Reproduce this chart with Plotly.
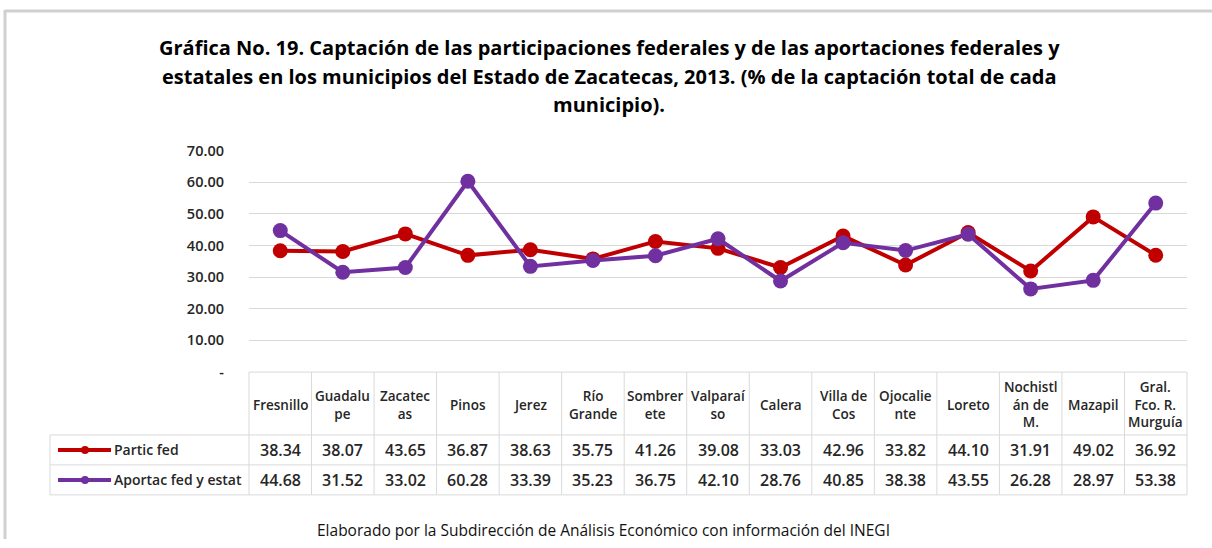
import plotly.graph_objects as go

# datos de la grafica
municipios = ["Fresnillo", "Guadalu<br>pe", "Zacatec<br>as", "Pinos", "Jerez",
              "Río<br>Grande", "Sombrer<br>ete", "Valparaí<br>so", "Calera",
              "Villa de<br>Cos", "Ojocalie<br>nte", "Loreto", "Nochistl<br>án de<br>M.",
              "Mazapil", "Gral.<br>Fco. R.<br>Murguía"]
partic_fed = [38.34, 38.07, 43.65, 36.87, 38.63, 35.75, 41.26, 39.08,
              33.03, 42.96, 33.82, 44.10, 31.91, 49.02, 36.92]
aportac_fed_estat = [44.68, 31.52, 33.02, 60.28, 33.39, 35.23, 36.75, 42.10,
                     28.76, 40.85, 38.38, 43.55, 26.28, 28.97, 53.38]
nombres = ["Partic fed", "Aportac fed y estat"]
y_ticks = [0, 10, 20, 30, 40, 50, 60, 70]
y_ticklabels = ["-", "10.00", "20.00", "30.00", "40.00", "50.00", "60.00", "70.00"]
titulo = ["Gráfica No. 19. Captación de las participaciones federales y de las aportaciones federales y",
          "estatales en los municipios del Estado de Zacatecas, 2013. (% de la captación total de cada",
          "municipio)."]
fuente = "Elaborado por la Subdirección de Análisis Económico con información del INEGI"

colores = ["#C00000", "#7030A0"]
series = [partic_fed, aportac_fed_estat]

W, H = 1212, 548
FONT = "Open Sans"
TXT = "#262626"
GRID = "#D9D9D9"


def px(x):
    return x / W


def py(y):
    # la pagina sale un poco comprimida en vertical, se corrige aqui
    return min(1, 1 - ((y - 9.3) / 0.967) / H)


# area de trazado en pixeles
X0, X1 = 249, 1187
Y_TOP, Y_ZERO = 150, 372
cw = (X1 - X0) / len(municipios)

fig = go.Figure()
for nombre, vals, col in zip(nombres, series, colores):
    fig.add_trace(go.Scatter(x=list(range(len(municipios))), y=vals, name=nombre,
                             mode="lines+markers",
                             line=dict(color=col, width=4),
                             marker=dict(color=col, size=15)))

shapes = []
annots = []


def texto(x, y, t, size, weight="normal", color=TXT, xanchor="center"):
    annots.append(dict(x=x, y=y, xref="paper", yref="paper", text=t, showarrow=False,
                       xanchor=xanchor, yanchor="middle", align="center",
                       font=dict(family=FONT, size=size, color=color, weight=weight)))


# marco gris de la imagen
shapes.append(dict(type="line", xref="paper", yref="paper", x0=px(5), x1=px(5),
                   y0=py(8), y1=0, line=dict(color="#D0D0D0", width=3)))
shapes.append(dict(type="line", xref="paper", yref="paper", x0=px(5), x1=px(1212),
                   y0=py(8) - 0.002, y1=py(8) - 0.002, line=dict(color="#D0D0D0", width=3)))

# tabla de datos
T_TOP, R1, R2, T_BOT = Y_ZERO, 435, 465, 495
LEG_X = 50
for yy, xa in [(T_TOP, X0), (R1, LEG_X), (R2, LEG_X), (T_BOT, LEG_X)]:
    shapes.append(dict(type="line", xref="paper", yref="paper", x0=px(xa), x1=px(X1),
                       y0=py(yy), y1=py(yy), line=dict(color=GRID, width=1)))
shapes.append(dict(type="line", xref="paper", yref="paper", x0=px(LEG_X), x1=px(LEG_X),
                   y0=py(R1), y1=py(T_BOT), line=dict(color=GRID, width=1)))
for i in range(len(municipios) + 1):
    xx = X0 + i * cw
    shapes.append(dict(type="line", xref="paper", yref="paper", x0=px(xx), x1=px(xx),
                       y0=py(T_TOP), y1=py(T_BOT), line=dict(color=GRID, width=1)))

for i, m in enumerate(municipios):
    xc = px(X0 + (i + 0.5) * cw)
    texto(xc, py((T_TOP + R1) / 2 + 1), m, 13.5, 600)
    for vals, yy in zip(series, [(R1 + R2) / 2, (R2 + T_BOT) / 2]):
        texto(xc, py(yy), "%.2f" % vals[i], 16, 600)

# claves de la leyenda en la tabla
for nombre, col, yy in zip(nombres, colores, [(R1 + R2) / 2, (R2 + T_BOT) / 2]):
    shapes.append(dict(type="line", xref="paper", yref="paper", x0=px(58), x1=px(111),
                       y0=py(yy), y1=py(yy), line=dict(color=col, width=4)))
    shapes.append(dict(type="circle", xref="paper", yref="paper", x0=px(81), x1=px(89),
                       y0=py(yy - 4), y1=py(yy + 4), fillcolor=col, line=dict(color=col, width=0)))
    texto(px(112), py(yy), nombre, 14, 600, xanchor="left")

# titulo y fuente
for t, yy in zip(titulo, [47, 76, 104]):
    texto(px(609), py(yy), t, 20, "bold", color="#000000")
texto(px(603), py(530), fuente, 15.5, 500, color="#111111")

fig.update_layout(width=W, height=H, margin=dict(l=0, r=0, t=0, b=0),
                  paper_bgcolor="white", plot_bgcolor="white", showlegend=False,
                  shapes=shapes, annotations=annots,
                  xaxis=dict(domain=[px(X0), px(X1)], range=[-0.5, len(municipios) - 0.5],
                             showticklabels=False, showgrid=False, zeroline=False),
                  yaxis=dict(domain=[py(Y_ZERO), py(Y_TOP)], range=[0, 70],
                             tickvals=y_ticks, ticktext=y_ticklabels,
                             showgrid=True, gridcolor=GRID, gridwidth=1, zeroline=False,
                             ticklabelstandoff=24,
                             tickfont=dict(family=FONT, size=14.5, color=TXT, weight=600)))

fig.write_html("out.html", config={"displayModeBar": False},
               post_script="document.body.style.margin='0';"
                           "document.body.style.overflow='hidden';"
                           "document.documentElement.style.overflow='hidden';")
